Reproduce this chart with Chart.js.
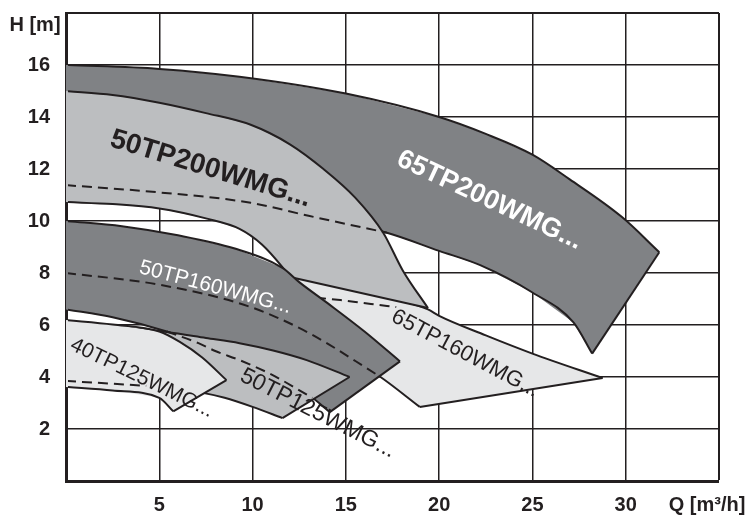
<!DOCTYPE html>
<html>
<head>
<meta charset="utf-8">
<script src="https://cdn.jsdelivr.net/npm/chart.js@4.4.1/dist/chart.umd.min.js"></script>
<style>
  html, body { margin: 0; padding: 0; background: #fff; }
  #wrap { width: 748px; height: 517px; }
</style>
</head>
<body>
<div id="wrap"><canvas id="pumpchart"></canvas></div>
<script>
// Q [m3/h], H [m] pairs
// upper = largest impeller (ends at the tip), lower = smallest impeller
var p65TP200Upper = [[0,16],[5,15.85],[9.3,15.55],[15,14.9],[20,14.0],[22.5,13.35],[25,12.55],[27,11.6],[29.8,10.15],[31.8,8.8]];
var p65TP200Lower = [[0,11.38],[5,11.1],[9.9,10.7],[13,10.2],[17.2,9.55],[20,8.85],[22.2,8.3],[25,7.25],[27.2,6.1],[28.2,4.9]];

var p65TP160Upper = [[0,9.0],[5,8.8],[10,8.35],[12,8.0],[15,7.55],[17.5,7.02],[19.4,6.6],[20,6.35],[22.5,5.6],[25,4.9],[28.76,3.96]];
var p65TP160Lower = [[0,8.0],[5,7.55],[9.86,6.7],[13,5.7],[16.8,4.03],[18.96,2.85]];
var p65TP160Mid = [[13.4,7.05],[14.7,6.96],[15.9,6.85],[17.2,6.73],[17.7,6.69]];

var p50TP200Upper = [[0,15],[2.5,14.85],[5,14.55],[7.5,14.15],[9.9,13.7],[12,12.95],[13.8,12.0],[15.5,10.9],[17,9.55],[18.05,8.1],[19.4,6.65]];
var p50TP200Lower = [[0,10.73],[2.5,10.65],[5,10.48],[7.5,10.1],[9.3,9.7],[10.5,9.1],[11.6,8.23],[12,7.85]];

var p50TP160Upper = [[0,10],[3,9.8],[6,9.45],[9,8.95],[11.6,8.2],[12.5,7.65],[14,6.85],[16,5.75],[17.9,4.6]];
var p50TP160Lower = [[0,6.6],[2.5,6.3],[5.4,5.75],[7.1,5.3],[8,5.0],[9.3,4.65],[11,4.1],[13.2,3.2],[14.14,2.65]];

var p50TP125Upper = [[0,6.1],[2.5,5.95],[5.4,5.73],[7.5,5.5],[9.3,5.3],[11.1,5.02],[12.9,4.65],[15.2,4.0]];
var p50TP125Lower = [[0,3.85],[4.3,3.66],[7.4,3.38],[8.5,3.2],[10,2.85],[11.6,2.42]];

var p40TP125Upper = [[0,6.19],[2.5,6.02],[5,5.75],[6.1,5.35],[7.3,4.75],[8.6,3.88]];
var p40TP125Lower = [[0,3.62],[2.5,3.48],[5,3.2],[5.75,2.68]];

var qLabels = [5, 10, 15, 20, 25, 30];
var hLabels = [2, 4, 6, 8, 10, 12, 14, 16];
var qTitle = "Q [m³/h]";
var hTitle = "H [m]";

var ink = "#231f20";
var dark = "#808285";
var mid = "#bcbec0";
var pale = "#e6e7e8";
var fontFamily = "'Liberation Sans', Arial, sans-serif";
// keep the fields off the thick left axis line
var fieldClip = {left: -2, top: 0, right: 0, bottom: -2};

function toXY(pts) {
  return pts.map(function(p) { return {x: p[0], y: p[1]}; });
}

function line(pts, order, dash, smooth) {
  return {
    data: toXY(pts),
    showLine: true,
    fill: false,
    borderColor: ink,
    borderWidth: 2,
    borderDash: dash ? [10, 6] : [],
    pointRadius: 0,
    tension: 0,
    cubicInterpolationMode: smooth ? "monotone" : "default",
    clip: fieldClip,
    order: order
  };
}

// one pump field: filled area, both impeller curves and the straight end line
function field(upper, lower, color, order) {
  var fillSet = {
    data: toXY(upper.concat(lower.slice().reverse())),
    showLine: true,
    fill: "shape",
    backgroundColor: color,
    borderWidth: 0,
    pointRadius: 0,
    tension: 0,
    clip: fieldClip,
    order: order
  };
  return [
    fillSet,
    line(upper, order - 0.5, false, true),
    line(lower, order - 0.5, false, true),
    line([upper[upper.length - 1], lower[lower.length - 1]], order - 0.5, false, false)
  ];
}

function upTo(pts, maxQ) { return pts.filter(function(p) { return p[0] <= maxQ; }); }
function between(pts, minQ, maxQ) { return pts.filter(function(p) { return p[0] >= minQ && p[0] <= maxQ; }); }

// model names on the fields
var fieldNames = [
  {text: "50TP200WMG...", q: 7.75, h: 12.0, angle: 17, font: "bold 28px " + fontFamily, color: ink},
  {text: "65TP200WMG...", q: 22.7, h: 10.8, angle: 25, font: "bold 27px " + fontFamily, color: "#fff"},
  {text: "50TP160WMG...", q: 8.0, h: 7.45, angle: 15, font: "21px " + fontFamily, color: "#fff"},
  {text: "65TP160WMG...", q: 21.4, h: 4.9, angle: 28, font: "22px " + fontFamily, color: ink},
  {text: "50TP125WMG...", q: 13.5, h: 2.6, angle: 27, font: "23px " + fontFamily, color: ink},
  {text: "40TP125WMG...", q: 4.07, h: 3.96, angle: 26, font: "21px " + fontFamily, color: ink}
];

var textPlugin = {
  id: "fieldText",
  afterDatasetsDraw: function(chart) {
    var ctx = chart.ctx;
    var xs = chart.scales.x, ys = chart.scales.y;
    fieldNames.forEach(function(l) {
      ctx.save();
      ctx.translate(xs.getPixelForValue(l.q), ys.getPixelForValue(l.h));
      ctx.rotate(l.angle * Math.PI / 180);
      ctx.font = l.font;
      ctx.fillStyle = l.color;
      ctx.textAlign = "center";
      ctx.textBaseline = "middle";
      ctx.fillText(l.text, 0, 0);
      ctx.restore();
    });
    // axis titles sit where the end ticks would be
    var area = chart.chartArea;
    ctx.save();
    ctx.font = "bold 20px " + fontFamily;
    ctx.fillStyle = ink;
    ctx.textAlign = "center";
    ctx.textBaseline = "middle";
    ctx.fillText(hTitle, area.left - 31, area.top + 12);
    ctx.fillText(qTitle, area.right - 12, area.bottom + 24);
    ctx.restore();
  }
};

var datasets = [].concat(
  field(p65TP200Upper, p65TP200Lower, dark, 20),
  field(p65TP160Upper, p65TP160Lower, pale, 19),
  [line(p65TP160Mid, 18, true, true)],
  field(p50TP200Upper, p50TP200Lower, mid, 17),
  [line(upTo(p65TP200Lower, 17.2), 16, true, true)],
  field(p50TP160Upper, p50TP160Lower, dark, 15),
  [line(upTo(p65TP160Lower, 16.8), 14, true, true)],
  field(p50TP125Upper, p50TP125Lower, mid, 13),
  [line(between(p50TP160Lower, 5.4, 13.2), 12, true, true)],
  field(p40TP125Upper, p40TP125Lower, pale, 11),
  [line(upTo(p50TP125Lower, 4.3), 10, true, true)]
);

var ctx = document.getElementById("pumpchart").getContext("2d");

var pumpChart = new Chart(ctx, {
  type: "scatter",
  data: { datasets: datasets },
  options: {
    responsive: true,
    maintainAspectRatio: false,
    animation: false,
    events: [],
    layout: { padding: { top: 13, right: 29, left: 0, bottom: 0 } },
    plugins: {
      legend: { display: false },
      tooltip: { enabled: false }
    },
    scales: {
      x: {
        type: "linear",
        min: 0,
        max: 35,
        afterFit: function(scale) {
          scale.height = 36;
          scale.paddingLeft = 0;
          scale.paddingRight = 0;
        },
        ticks: {
          stepSize: 5,
          padding: 12,
          color: ink,
          font: { family: fontFamily, size: 20, weight: "bold" },
          maxRotation: 0,
          callback: function(v) { return qLabels.indexOf(v) >= 0 ? String(v) : ""; }
        },
        grid: {
          drawTicks: false,
          color: ink,
          lineWidth: function(c) { return c.tick && c.tick.value === 35 ? 2 : (c.tick && c.tick.value === 0 ? 0 : 1.5); }
        },
        border: { width: 3, color: ink }
      },
      y: {
        type: "linear",
        min: 0,
        max: 18,
        afterFit: function(scale) {
          scale.width = 66;
          scale.paddingTop = 0;
          scale.paddingBottom = 0;
        },
        ticks: {
          stepSize: 2,
          padding: 16,
          color: ink,
          font: { family: fontFamily, size: 20, weight: "bold" },
          callback: function(v) { return hLabels.indexOf(v) >= 0 ? String(v) : ""; }
        },
        grid: {
          drawTicks: false,
          color: ink,
          lineWidth: function(c) { return c.tick && c.tick.value === 18 ? 2 : (c.tick && c.tick.value === 0 ? 0 : 1.5); }
        },
        border: { width: 3, color: ink }
      }
    }
  },
  plugins: [textPlugin]
});
</script>
</body>
</html>
